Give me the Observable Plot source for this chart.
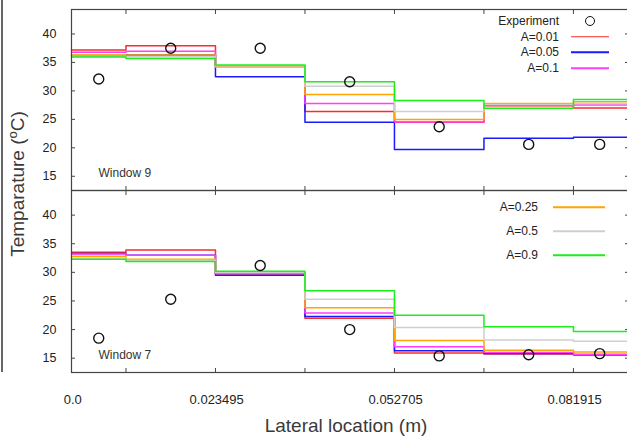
<!DOCTYPE html>
<html><head><meta charset="utf-8">
<script src="https://cdn.jsdelivr.net/npm/d3@7"></script>
<script src="https://cdn.jsdelivr.net/npm/@observablehq/plot@0.6"></script>
<style>
html,body{margin:0;padding:0;background:#fff;}
#wrap{position:absolute;left:0;top:0;width:627px;height:439px;overflow:hidden;font-family:"Liberation Sans",Arial,sans-serif;color:#333;}
.panel{position:absolute;left:0;max-width:none !important;}
#ylab{position:absolute;left:17px;top:184px;transform:translate(-50%,-50%) rotate(-90deg);white-space:nowrap;font-size:19px;color:#3a3a3a;}
#xlab{position:absolute;left:346px;top:426px;transform:translate(-50%,-50%);white-space:nowrap;font-size:19px;color:#3a3a3a;}
.leg{position:absolute;font-size:12px;color:#222;white-space:nowrap;}
.legtxt{position:absolute;transform:translate(-100%,-50%);}
.legline{position:absolute;height:1.5px;transform:translateY(-50%);}
.legdot{position:absolute;width:8px;height:8px;border:1.4px solid #111;border-radius:50%;transform:translate(-50%,-50%);}
#edge{position:absolute;left:1px;top:0;width:2px;height:372px;background:#666;}
</style></head><body><div id="wrap"><div id="edge"></div></div>
<script>
// bin edges (m) and bin centres for the experiment points
const edges = [0, 0.00889, 0.023495, 0.0381, 0.052705, 0.06731, 0.081915, 0.0909];
const centers = [0.004445, 0.016193, 0.030798, 0.045403, 0.060008, 0.074613, 0.0862];
const xLabelTicks = [0, 0.023495, 0.052705, 0.081915];
const xLabelText = ["0.0", "0.023495", "0.052705", "0.081915"];
const yTicks = [15, 20, 25, 30, 35, 40];
const seriesNames = ["A=0.01", "A=0.05", "A=0.1", "A=0.25", "A=0.5", "A=0.9"];
const seriesColors = ["#ff2a2a", "#1a1aff", "#ff3cff", "#ffa500", "#cfcfcf", "#18f018"];

// Window 9
const w9Exp  = [32.1, 37.5, 37.5, 31.6, 23.7, 20.6, 20.6];
const w9A001 = [37.2, 37.95, 34.4, 26.4, 24.5, 27.4, 27.0];
const w9A005 = [36.2, 36.3, 32.5, 24.5, 19.7, 21.7, 21.85];
const w9A01  = [36.8, 36.95, 34.4, 27.8, 24.55, 27.5, 27.5];
const w9A025 = [36.3, 36.3, 34.2, 29.35, 24.96, 27.8, 28.1];
const w9A05  = [36.1, 36.0, 34.4, 30.8, 26.4, 27.6, 27.8];
const w9A09  = [35.95, 35.7, 34.56, 31.6, 28.3, 26.95, 28.5];

// Window 7
const w7Exp  = [18.5, 25.3, 31.2, 20.0, 15.4, 15.6, 15.8];
const w7A001 = [33.5, 33.9, 29.7, 22.0, 15.9, 15.75, 15.6];
const w7A005 = [33.3, 33.0, 29.5, 22.3, 16.3, 15.8, 15.6];
const w7A01  = [33.2, 33.0, 29.8, 22.9, 17.0, 16.0, 15.7];
const w7A025 = [32.8, 32.3, 29.95, 23.8, 18.1, 16.4, 16.1];
const w7A05  = [32.5, 32.1, 30.0, 25.3, 20.35, 18.2, 17.95];
const w7A09  = [32.3, 31.9, 30.2, 26.8, 22.5, 20.5, 19.65];

const legendTop = ["Experiment", "A=0.01", "A=0.05", "A=0.1"];
const legendBottom = ["A=0.25", "A=0.5", "A=0.9"];

const font = '"Liberation Sans", Arial, sans-serif';

function steps(series) {
  const rows = [];
  series.forEach((vals, k) => {
    vals.forEach((v, i) => rows.push({s: seriesNames[k], x: edges[i], y: v}));
    rows.push({s: seriesNames[k], x: edges[edges.length - 1], y: vals[vals.length - 1]});
  });
  return rows;
}

function panel(series, exp, label, o) {
  const rows = steps(series);
  const pts = exp.map((v, i) => ({x: centers[i], y: v}));
  const marks = [
    Plot.line(rows, {x: "x", y: "y", z: "s", stroke: "s", curve: "step-after", strokeWidth: 1.5}),
    Plot.dot(pts, {x: "x", y: "y", r: 5, stroke: "#111", strokeWidth: 1.4}),
    Plot.frame({stroke: "#444", strokeWidth: 1.2}),
    Plot.axisY(yTicks, {anchor: "left", tickSize: 0, tickPadding: 15, fill: "#222", label: null, fontSize: 12.5, style: {letterSpacing: "1.5px"}}),
    Plot.axisY(yTicks, {anchor: "left", tickSize: -4, fill: "none", stroke: "#444", label: null}),
    Plot.axisY(yTicks, {anchor: "right", tickSize: -4, fill: "none", stroke: "#444", label: null}),
    Plot.axisX(edges.slice(0, 7), {anchor: "top", tickSize: -4, fill: "none", stroke: "#444", label: null}),
    Plot.axisX(edges.slice(0, 7), {anchor: "bottom", tickSize: -4, fill: "none", stroke: "#444", label: null}),
    Plot.text([label], {frameAnchor: "bottom-left", dx: 27, dy: -14, textAnchor: "start", lineAnchor: "bottom", fill: "#333", fontSize: 12})
  ];
  if (o.xlabels) {
    marks.push(Plot.axisX(xLabelTicks, {anchor: "bottom", tickSize: 0, tickPadding: 22, fill: "#222", label: null, fontSize: 13,
      dx: 1.2, style: {letterSpacing: "2.4px"},
      tickFormat: (d) => xLabelText[xLabelTicks.indexOf(d)]}));
  }
  const svg = Plot.plot({
    width: 640, height: o.height,
    marginLeft: 71, marginRight: 12, marginTop: o.mt, marginBottom: o.mb,
    x: {domain: [0, edges[edges.length - 1]]},
    y: {domain: [12.5, 44.3]},
    color: {domain: seriesNames, range: seriesColors},
    style: {fontFamily: font, fontSize: "12px", background: "transparent", overflow: "visible", maxWidth: "none"},
    marks
  });
  svg.style.maxWidth = "none";
  svg.style.width = "640px";
  svg.style.height = o.height + "px";
  return svg;
}

const wrap = document.getElementById("wrap");
const p1 = panel([w9A001, w9A005, w9A01, w9A025, w9A05, w9A09], w9Exp, "Window 9", {height: 190, mt: 9, mb: 0});
p1.classList.add("panel"); p1.style.top = "0px";
const p2 = panel([w7A001, w7A005, w7A01, w7A025, w7A05, w7A09], w7Exp, "Window 7", {height: 249, mt: 0, mb: 67, xlabels: true});
p2.classList.add("panel"); p2.style.top = "190px";
wrap.appendChild(p1); wrap.appendChild(p2);

// axis titles
const yl = document.createElement("div"); yl.id = "ylab";
yl.innerHTML = "Temparature (<sup style='font-size:13px'>o</sup>C)";
wrap.appendChild(yl);
const xl = document.createElement("div"); xl.id = "xlab"; xl.textContent = "Lateral location (m)";
wrap.appendChild(xl);

// legends
function legend(items, colors, textRight, lineX1, lineX2, y0, dy, dotItem) {
  items.forEach((name, i) => {
    const y = y0 + i * dy;
    const t = document.createElement("div"); t.className = "leg legtxt";
    t.style.left = textRight + "px"; t.style.top = y + "px"; t.textContent = name;
    wrap.appendChild(t);
    if (name === dotItem) {
      const d = document.createElement("div"); d.className = "legdot";
      d.style.left = (lineX1 + lineX2) / 2 + "px"; d.style.top = y + "px";
      wrap.appendChild(d);
    } else {
      const l = document.createElement("div"); l.className = "legline";
      l.style.left = lineX1 + "px"; l.style.width = (lineX2 - lineX1) + "px"; l.style.top = y + "px";
      l.style.background = colors[seriesNames.indexOf(name)];
      wrap.appendChild(l);
    }
  });
}
legend(legendTop, seriesColors, 559, 571, 609, 21, 15.7, "Experiment");
legend(legendBottom, seriesColors, 538, 553, 605, 207, 24, null);
</script></body></html>
